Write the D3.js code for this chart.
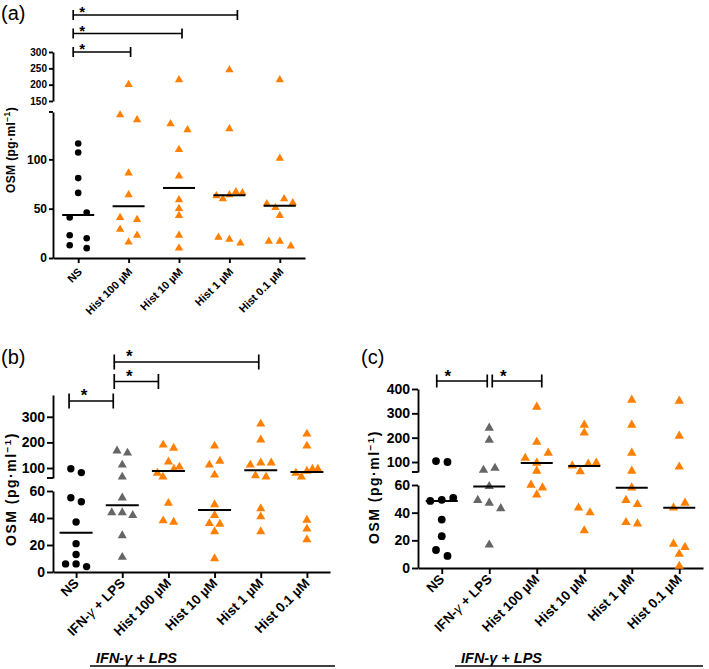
<!DOCTYPE html>
<html><head><meta charset="utf-8">
<script src="https://cdn.jsdelivr.net/npm/d3@7"></script>
<style>
body{margin:0;background:#fff}
svg{display:block}
text{font-family:"Liberation Sans",Arial,Helvetica,sans-serif}
</style>
</head><body>
<svg id="chart" width="709" height="669"></svg>
<script>
// ---------------- DATA ----------------
const categoriesA = ["NS", "Hist 100 µM", "Hist 10 µM", "Hist 1 µM", "Hist 0.1 µM"];
const categoriesBC = ["NS", "IFN-γ + LPS", "Hist 100 µM", "Hist 10 µM", "Hist 1 µM", "Hist 0.1 µM"];

// Panel (a): OSM (pg/ml), non-stimulated + histamine
const a_NS    = [116, 107, 81, 66, 41, 46, 23, 20, 13, 10];
const a_H100  = [200, 145, 140, 86, 64, 41, 39, 29, 23, 16];
const a_H10   = [215, 136, 130, 110, 83, 59, 50, 43, 23, 10];
const a_H1    = [245, 131, 63, 60, 64, 67, 66, 21, 19, 15];
const a_H01   = [215, 101, 55, 51, 60, 56, 43, 17, 17, 12];

// Panel (b)
const b_NS    = [97, 82, 55, 52, 37, 21, 13, 6, 6, 4];
const b_IFN   = [167, 159, 112, 65, 55, 44, 44, 42, 27, 11];
const b_H100  = [190, 178, 80, 65, 124, 96, 104, 51, 38, 37];
const b_H10   = [186, 112, 127, 73, 50, 42, 36, 35.5, 30, 10];
const b_H1    = [272, 210, 112, 120, 120, 70, 65, 47, 41, 30];
const b_H01   = [233, 186, 80, 65, 88, 96, 96, 38.5, 32, 24];

// Panel (c)
const c_NS    = [104, 100, 48.5, 49.3, 50.7, 35, 23, 13, 8.7];
const c_IFN   = [240, 190, 67, 75, 59, 49, 47, 43, 16.7];
const c_H100  = [326, 182, 116, 96, 137, 63, 60, 58, 53];
const c_H10   = [252, 220, 84, 61, 92, 96, 43.5, 40, 27];
const c_H1    = [355, 252, 137, 63, 58, 49, 46, 33, 32];
const c_H01   = [351, 207, 80, 43.5, 47, 17.4, 15, 10, 1.4];

// Axis ticks
const ticksLowerA = [0, 50, 100];
const ticksUpperA = [150, 200, 250, 300];
const ticksLowerBC = [0, 20, 40, 60];
const ticksUpperB = [100, 200, 300];
const ticksUpperC = [100, 200, 300, 400];

// Significance comparisons (from, to)
const sigA = [["NS", "Hist 100 µM"], ["NS", "Hist 10 µM"], ["NS", "Hist 1 µM"]];
const sigB = [["NS", "IFN-γ + LPS"], ["IFN-γ + LPS", "Hist 100 µM"], ["IFN-γ + LPS", "Hist 1 µM"]];
const sigC = [["NS", "IFN-γ + LPS"], ["IFN-γ + LPS", "Hist 100 µM"]];

const groupLabel = "IFN-γ + LPS";

// ---------------- STYLE / LAYOUT ----------------
const ORANGE = "#ff8000", GREY = "#666666", BLACK = "#000000";
const svg = d3.select("#chart");

function drawPanel(cfg) {
  const g = svg.append("g");
  const x = d3.scalePoint().domain(cfg.cats).range([cfg.x0, cfg.x1]).padding(0.5);
  const yLo = d3.scaleLinear().domain(cfg.loDom).range(cfg.loRange);
  const yHi = d3.scaleLinear().domain(cfg.hiDom).range(cfg.hiRange);
  const y = v => v > cfg.split ? yHi(v) : yLo(v);

  // ---- y axes (broken) ----
  const styleAxis = (sel, fs) => {
    sel.select(".domain").attr("stroke", BLACK).attr("stroke-width", 1.9);
    sel.selectAll(".tick line").attr("stroke", BLACK).attr("stroke-width", 1.9);
    sel.selectAll(".tick text").attr("fill", BLACK).attr("font-size", fs).attr("font-weight", "bold")
       .attr("font-family", '"Liberation Sans",Arial,sans-serif');
  };
  const axLo = d3.axisLeft(yLo).tickValues(cfg.loTicks).tickSize(cfg.ytick).tickSizeOuter(0).tickPadding(cfg.ypad);
  const gLo = g.append("g").attr("transform", `translate(${cfg.x0},0)`).call(axLo);
  styleAxis(gLo, cfg.loFont);
  const axHi = d3.axisLeft(yHi).tickValues(cfg.hiTicks).tickSize(cfg.ytick).tickSizeOuter(0).tickPadding(cfg.ypad);
  const gHi = g.append("g").attr("transform", `translate(${cfg.x0},0)`).call(axHi);
  styleAxis(gHi, cfg.hiFont);
  // break tick
  const by = cfg.breakOnLower ? yLo(cfg.loDom[1]) : yHi(cfg.hiDom[0]);
  g.append("line").attr("x1", cfg.x0 - cfg.ytick).attr("x2", cfg.x0).attr("y1", by).attr("y2", by)
    .attr("stroke", BLACK).attr("stroke-width", 1.9);

  // ---- x axis ----
  const axX = d3.axisBottom(x).tickSize(cfg.xtick).tickSizeOuter(0).tickFormat("");
  const gX = g.append("g").attr("transform", `translate(0,${cfg.loRange[0]})`).call(axX);
  gX.select(".domain").attr("stroke", BLACK).attr("stroke-width", 1.9);
  gX.selectAll(".tick line").attr("stroke", BLACK).attr("stroke-width", 1.9);
  gX.selectAll(".tick").each(function(d) {
    const t = d3.select(this).append("text")
      .attr("transform", `translate(${cfg.lab[0]},${cfg.lab[1]}) rotate(-45)`)
      .attr("text-anchor", "end").attr("fill", BLACK)
      .attr("font-size", cfg.xFont).attr("font-weight", "bold");
    if (d.indexOf("γ") >= 0) {
      const parts = d.split("γ");
      t.append("tspan").text(parts[0]);
      t.append("tspan").attr("font-style", "italic").attr("font-weight", "normal").text("γ");
      t.append("tspan").text(parts[1]);
    } else t.text(d);
  });

  // ---- y label ----
  const yl = g.append("text")
    .attr("transform", `translate(${cfg.ylab[0]},${cfg.ylab[1]}) rotate(-90)`)
    .attr("text-anchor", "middle").attr("font-weight", "bold").attr("font-size", cfg.ylabFont)
    .attr("letter-spacing", cfg.ylabSpacing).attr("fill", BLACK);
  yl.append("tspan").text("OSM (pg·ml");
  yl.append("tspan").attr("font-size", cfg.ylabFont * 0.7).attr("dy", -cfg.ylabFont * 0.38).text("−1");
  yl.append("tspan").attr("dy", cfg.ylabFont * 0.38).text(")");

  // ---- panel letter ----
  g.append("text").attr("x", cfg.letterPos[0]).attr("y", cfg.letterPos[1])
    .attr("font-size", 20).attr("fill", BLACK).text(cfg.letter);

  // ---- points ----
  cfg.series.forEach((s, i) => {
    const cat = cfg.cats[i];
    const cx = x(cat);
    const pts = s.values.map((v, j) => ({ v, j, py: y(v) }));
    const sorted = pts.slice().sort((a, b) => a.py - b.py);
    const rows = [];
    let cur = [sorted[0]];
    for (let k = 1; k < sorted.length; k++) {
      if (sorted[k].py - sorted[k - 1].py < cfg.rowGap) cur.push(sorted[k]);
      else { rows.push(cur); cur = [sorted[k]]; }
    }
    rows.push(cur);
    rows.forEach(r => {
      r.sort((a, b) => a.j - b.j);
      const n = r.length;
      const sp = n > 1 ? cfg.spacing(n) : 0;
      r.forEach((p, k) => { p.dx = (k - (n - 1) / 2) * sp; });
    });
    if (s.shape === "circle") {
      g.selectAll(null).data(pts).enter().append("circle")
        .attr("cx", p => cx + p.dx).attr("cy", p => p.py).attr("r", cfg.r).attr("fill", s.color);
    } else {
      const sym = d3.symbol().type(d3.symbolTriangle).size(cfg.triSize);
      g.selectAll(null).data(pts).enter().append("path")
        .attr("d", sym).attr("transform", p => `translate(${cx + p.dx},${p.py})`).attr("fill", s.color);
    }
    const m = d3.median(s.values);
    g.append("line").attr("x1", cx - cfg.medW / 2).attr("x2", cx + cfg.medW / 2)
      .attr("y1", y(m)).attr("y2", y(m)).attr("stroke", BLACK).attr("stroke-width", 2);
  });

  // ---- significance bars ----
  cfg.sig.forEach((pair, i) => {
    const lv = cfg.sigLevel[i];
    const yy = cfg.sigBase - lv * cfg.sigStep;
    const xl = x(pair[0]) + cfg.sigOff[i][0];
    const xr = x(pair[1]) + cfg.sigOff[i][1];
    const bg = g.append("g").attr("stroke", BLACK).attr("stroke-width", 1.7);
    bg.append("line").attr("x1", xl).attr("x2", xr).attr("y1", yy).attr("y2", yy);
    bg.append("line").attr("x1", xl).attr("x2", xl).attr("y1", yy - cfg.sigTick).attr("y2", yy + cfg.sigTick);
    bg.append("line").attr("x1", xr).attr("x2", xr).attr("y1", yy - cfg.sigTick).attr("y2", yy + cfg.sigTick);
    g.append("text").attr("x", xl + cfg.starOff).attr("y", yy + cfg.starDy)
      .attr("font-size", cfg.starFont).attr("font-weight", "bold").attr("text-anchor", "middle")
      .attr("fill", BLACK).text("*");
  });

  // ---- group label ----
  if (cfg.group) {
    g.append("text").attr("x", cfg.group.x).attr("y", cfg.group.y)
      .attr("font-size", 14.5).attr("font-weight", "bold").attr("font-style", "italic")
      .attr("fill", BLACK).text(groupLabel);
    g.append("line").attr("x1", cfg.group.x1).attr("x2", cfg.group.x2)
      .attr("y1", cfg.group.ly).attr("y2", cfg.group.ly).attr("stroke", BLACK).attr("stroke-width", 1.7);
  }
}

// Panel (a)
drawPanel({
  letter: "(a)", letterPos: [1, 20],
  cats: categoriesA, x0: 53, x1: 305,
  loDom: [0, 148], loRange: [258, 112], hiDom: [150, 300], hiRange: [101, 52], split: 149,
  breakOnLower: true,
  loTicks: ticksLowerA, hiTicks: ticksUpperA, loFont: 12, hiFont: 10, ytick: 4, ypad: 2,
  xtick: 5, xFont: 11, lab: [4, 14.5],
  ylab: [15, 150], ylabFont: 12, ylabSpacing: 0.4,
  series: [
    { values: a_NS, shape: "circle", color: BLACK },
    { values: a_H100, shape: "tri", color: ORANGE },
    { values: a_H10, shape: "tri", color: ORANGE },
    { values: a_H1, shape: "tri", color: ORANGE },
    { values: a_H01, shape: "tri", color: ORANGE }
  ],
  r: 3.3, triSize: 30, medW: 32, rowGap: 6.5,
  spacing: n => n === 2 ? 17 : Math.min(11, 26 / (n - 1)),
  sig: sigA, sigLevel: [0, 1, 2], sigBase: 52, sigStep: 18.5,
  sigOff: [[-5, 2], [-5, 3], [-5, 8]], sigTick: 5, starOff: 9, starDy: 2, starFont: 15
});

// Panel (b)
drawPanel({
  letter: "(b)", letterPos: [1, 364],
  cats: categoriesBC, x0: 53, x1: 330,
  loDom: [0, 60], loRange: [572, 491], hiDom: [61, 385], hiRange: [478, 395], split: 60,
  breakOnLower: false,
  loTicks: ticksLowerBC, hiTicks: ticksUpperB, loFont: 14, hiFont: 14, ytick: 6, ypad: 2,
  xtick: 6, xFont: 13.5, lab: [3, 12],
  ylab: [16, 489], ylabFont: 14, ylabSpacing: 1.5,
  series: [
    { values: b_NS, shape: "circle", color: BLACK },
    { values: b_IFN, shape: "tri", color: GREY },
    { values: b_H100, shape: "tri", color: ORANGE },
    { values: b_H10, shape: "tri", color: ORANGE },
    { values: b_H1, shape: "tri", color: ORANGE },
    { values: b_H01, shape: "tri", color: ORANGE }
  ],
  r: 3.7, triSize: 36, medW: 33, rowGap: 6.5,
  spacing: n => Math.min(10.5, 22 / (n - 1)),
  sig: sigB, sigLevel: [0, 1, 2], sigBase: 401, sigStep: 19.5,
  sigOff: [[-7, -9], [-8, -10], [-8, -2]], sigTick: 7.5, starOff: 15, starDy: 0, starFont: 17,
  group: { x: 96, y: 663, x1: 90, x2: 335, ly: 666 }
});

// Panel (c)
drawPanel({
  letter: "(c)", letterPos: [361, 364],
  cats: categoriesBC, x0: 418, x1: 703,
  loDom: [0, 60], loRange: [568, 485], hiDom: [59, 400], hiRange: [472, 389], split: 60,
  breakOnLower: false,
  loTicks: ticksLowerBC, hiTicks: ticksUpperC, loFont: 14, hiFont: 14, ytick: 6, ypad: 2,
  xtick: 6, xFont: 13.5, lab: [3, 12],
  ylab: [379, 487], ylabFont: 14, ylabSpacing: 1.5,
  series: [
    { values: c_NS, shape: "circle", color: BLACK },
    { values: c_IFN, shape: "tri", color: GREY },
    { values: c_H100, shape: "tri", color: ORANGE },
    { values: c_H10, shape: "tri", color: ORANGE },
    { values: c_H1, shape: "tri", color: ORANGE },
    { values: c_H01, shape: "tri", color: ORANGE }
  ],
  r: 3.9, triSize: 38, medW: 32, rowGap: 6.5,
  spacing: n => Math.min(11.5, 24 / (n - 1)),
  sig: sigC, sigLevel: [0, 0], sigBase: 381, sigStep: 0,
  sigOff: [[-5, -2], [3, 5]], sigTick: 6.5, starOff: 11, starDy: 1, starFont: 17,
  group: { x: 461, y: 663, x1: 455, x2: 703, ly: 666 }
});
</script>
</body></html>
